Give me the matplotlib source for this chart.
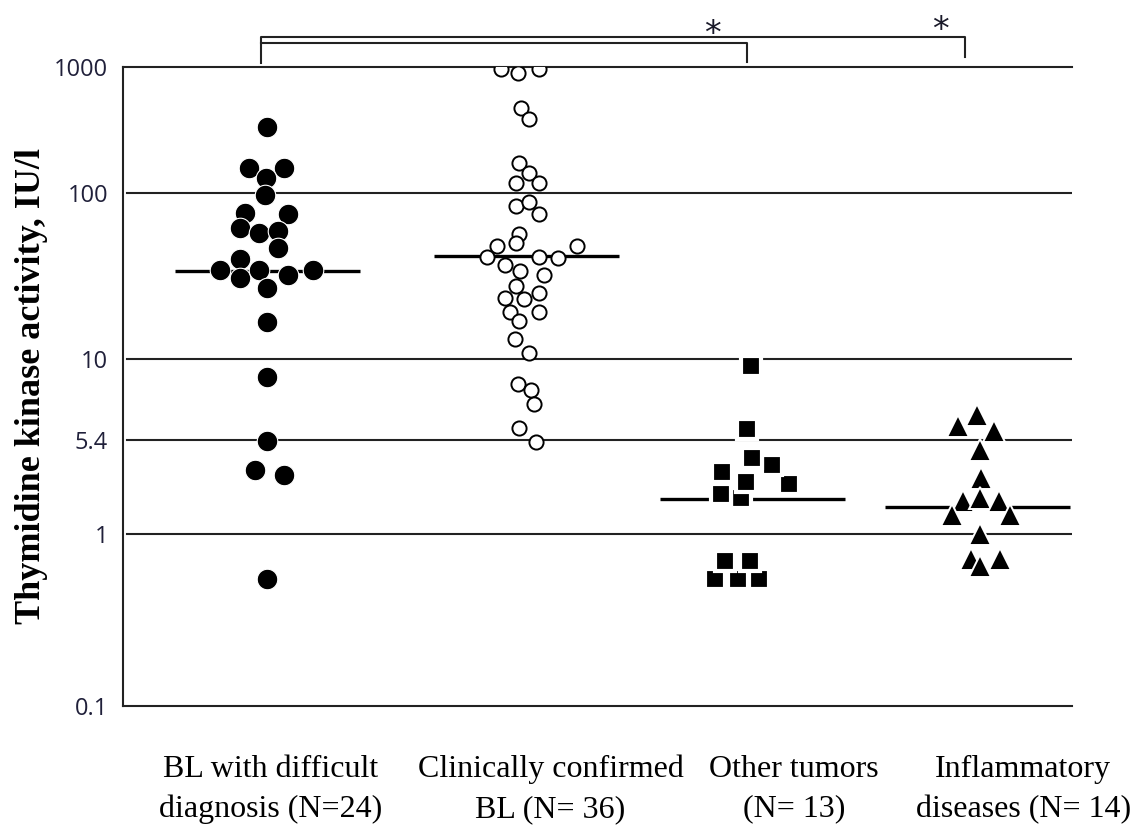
#!/usr/bin/env python3
import matplotlib
matplotlib.use("Agg")
import matplotlib.pyplot as plt
import matplotlib.transforms as mtransforms
from matplotlib.ticker import NullLocator
import numpy as np

# values (IU/l)
bl_difficult = [337, 160, 160, 131, 97, 76, 75, 61.5, 58, 59, 47, 40, 34.5, 30.7,
                34.5, 32, 34.5, 27, 16.8, 8.7, 5.3, 3.15, 2.9, 0.55]
bl_confirmed = [960, 900, 960, 470, 390, 173, 144, 121, 120, 84, 89, 75, 57, 50,
                48, 48, 41.5, 41.5, 41, 37, 34, 32, 27.6, 23.3, 23, 25, 19.3, 17,
                19.3, 13.2, 10.9, 8.3, 7.9, 7.1, 5.9, 5.2]
other_tumors = [0.55, 0.55, 0.55, 0.70, 0.70, 1.92, 2.05, 2.44, 2.53, 3.02, 3.44,
                3.92, 5.86, 9.5]
inflammatory = [6.5, 6.0, 5.75, 4.5, 2.75, 1.8, 1.9, 1.8, 1.4, 1.4, 1.0, 0.72,
                0.72, 0.65]
medians = [34, 42, 1.87, 1.64]

group_labels = ["BL with difficult\ndiagnosis (N=24)",
                "Clinically confirmed\nBL (N= 36)",
                "Other tumors\n(N= 13)",
                "Inflammatory\ndiseases (N= 14)"]
ytick_vals = [0.1, 1, 5.4, 10, 100, 1000]
ytick_labels = ["0.1", "1", "5.4", "10", "100", "1000"]

# horizontal spread of the swarm, in pixels of the original figure
bl_difficult_dx = [0, -18, 17, -1, -2, -22, 21, -27, -8, 11, 11, -27, -47, -27,
                   -8, 21, 46, 0, 0, 0, 0, -12, 17, 0]
bl_confirmed_dx = [-26, -9, 12, -6, 2, -8, 2, -11, 12, -11, 2, 12, -8, -11, -30,
                   50, -40, 12, 31, -22, -7, 17, -11, -22, -3, 12, -17, -8, 12,
                   -12, 2, -9, 4, 7, -8, 9]
other_tumors_dx = [-37, -14, 7, -27, -2, -11, -31, 37, -6, -30, 20, 0, -5, -1]
inflammatory_dx = [-1, -20, 16, 2, 3, -15, 2, 21, -26, 32, 2, -7, 22, 2]

PX = 240.0  # pixels per x unit
group_pos = [0, 1.08, 2.02, 2.96]
label_pos = [0.015, 1.18, 2.195, 3.15]

# the original axis is not a true log axis: piecewise in log10
KL = np.array([-3, -1, 0, np.log10(5.4), 1, 2, 3, 6])
KH = np.array([-343.4, 0, 171.7, 266.3, 346.8, 512.7, 639, 1017.9])


def fwd(v):
    v = np.clip(np.asarray(v, dtype=float), 1e-9, None)
    return np.interp(np.log10(v), KL, KH)


def inv(h):
    return 10 ** np.interp(np.asarray(h, dtype=float), KH, KL)


fig = plt.figure(figsize=(11.44, 8.31), dpi=100)
ax = fig.add_axes([123.3 / 1144, 125 / 831, 948.7 / 1144, 639 / 831])
ax.set_yscale("function", functions=(fwd, inv))
ax.set_ylim(0.1, 1000)
ax.set_xlim(-0.6, -0.6 + 948.7 / PX)

dark = "#222222"
for v in [1, 5.4, 10, 100]:
    ax.axhline(v, xmin=4 / 948.7, xmax=1, color=dark, lw=1.5, zorder=1)

for pos, m in zip(group_pos, medians):
    ax.hlines(m, pos - 0.385, pos + 0.385, color="black", lw=2.4, zorder=2)

groups = [
    (bl_difficult, bl_difficult_dx, dict(marker="o", ms=14.8, mfc="black", mec="white", mew=0.8)),
    (bl_confirmed, bl_confirmed_dx, dict(marker="o", ms=10.2, mfc="white", mec="black", mew=1.4)),
    (other_tumors, other_tumors_dx, dict(marker="s", ms=14.0, mfc="black", mec="white", mew=3.0)),
    (inflammatory, inflammatory_dx, dict(marker="^", ms=15.5, mfc="black", mec="white", mew=1.4)),
]
for pos, (vals, dx, style) in zip(group_pos, groups):
    xs = pos + np.array(dx) / PX
    ax.plot(xs, vals, ls="none", zorder=3, **style)

ax.spines["right"].set_visible(False)
for side in ["left", "top", "bottom"]:
    ax.spines[side].set_linewidth(1.5)
    ax.spines[side].set_color(dark)

ax.set_yticks(ytick_vals, ytick_labels)
ax.yaxis.set_minor_locator(NullLocator())
ax.tick_params(axis="y", length=0, pad=11, labelsize=17, labelcolor="#20203a")
for lbl in ax.get_yticklabels():
    lbl.set_fontfamily("Open Sans")

ax.set_xticks(label_pos, group_labels)
ax.tick_params(axis="x", length=0, pad=35, labelsize=23)
for lbl in ax.get_xticklabels():
    lbl.set_fontfamily("Liberation Serif")
    lbl.set_linespacing(1.5)

ax.set_ylabel("Thymidine kinase activity, IU/l", fontfamily="Liberation Serif",
              fontweight="bold", fontsize=26)
ax.yaxis.set_label_coords(-0.0794, 0.5)

# significance brackets above the plot
tr = mtransforms.blended_transform_factory(ax.transData, ax.transAxes)
xl, xm, xr = -0.026, 1.997, 2.907
ax.plot([xl, xl, xr, xr], [1.0067, 1.0465, 1.0465, 1.0161], color=dark, lw=1.5,
        transform=tr, clip_on=False)
ax.plot([xl, xm, xm], [1.0383, 1.0383, 1.0083], color=dark, lw=1.5,
        transform=tr, clip_on=False)
ax.text(1.854, 1.036, "*", transform=tr, ha="center", va="baseline",
        fontsize=24, fontfamily="DejaVu Sans", color="#1a1a2a")
ax.text(2.803, 1.043, "*", transform=tr, ha="center", va="baseline",
        fontsize=24, fontfamily="DejaVu Sans", color="#1a1a2a")

fig.savefig("out.png", dpi=100, facecolor="white")
